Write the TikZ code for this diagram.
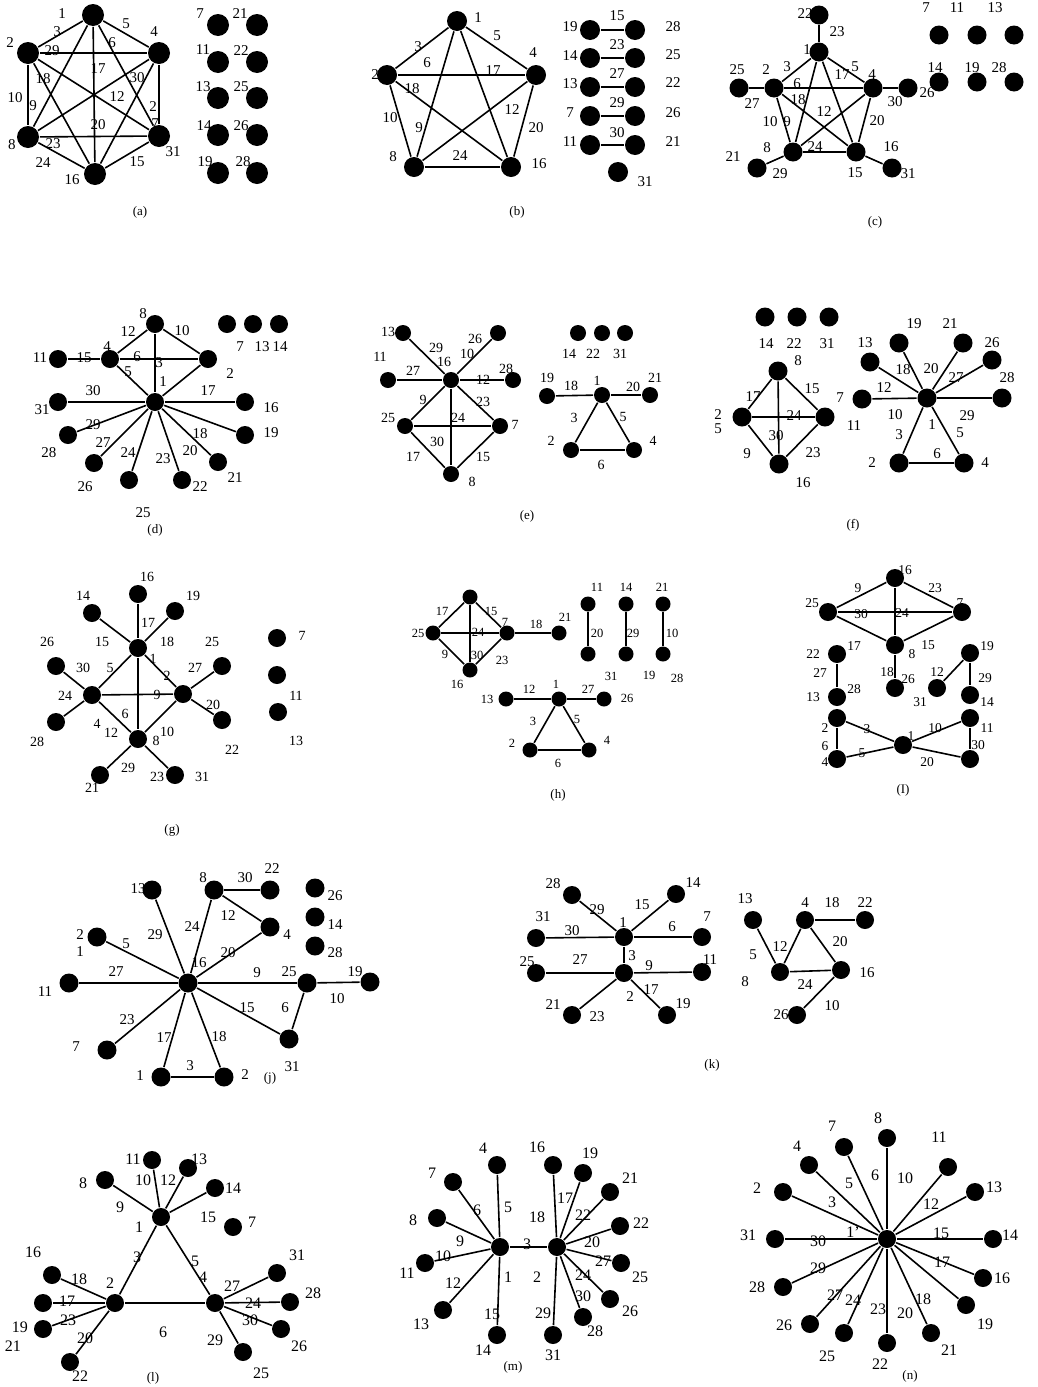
\documentclass[tikz,border=0pt]{standalone}
\usepackage{fontspec}
\setmainfont{Liberation Serif}
\usepackage{tikz}
\tikzstyle{pnt}=[circle,fill,inner sep=0pt,minimum size=19pt]
\tikzstyle{lbl}=[inner sep=0pt,font=\fontsize{15}{15}\selectfont]
\tikzstyle{subcap}=[inner sep=0pt,font=\fontsize{13}{13}\selectfont]

\begin{document}
\begin{tikzpicture}[x=1pt,y=-1pt,line width=1.6pt]
\fill[white] (0,0) rectangle (1038,1387);
\useasboundingbox (0,0) rectangle (1038,1387);

% (a)
\begin{scope}[pnt/.append style={minimum size=22pt}]
\foreach \n/\x/\y in {1/93/15,4/159/53,2/28/53,8/28/137,31/159/136,16/95/174,
  7/218/25,21/257/25,11/218/62,22/257/62,13/218/98,25/257/98,14/218/135,26/257/135,19/218/173,28/257/173}
  \node[pnt] (a\n) at (\x,\y) {};
\foreach \u/\v in {1/2,1/4,1/8,1/16,1/31,2/4,2/8,2/16,2/31,4/8,4/16,4/31,8/31,8/16,16/31}
  \draw (a\u) -- (a\v);
\foreach \s/\x/\y [count=\k] in {1/62/14,5/126/24,3/57/32,2/10/43,4/154/32,29/52/51,6/112/43,17/98/69,
  18/43/79,30/137/78,10/15/98,12/117/97,9/33/106,2/153/107,7/155/124,20/98/125,8/12/145,23/53/144,
  24/43/163,15/137/162,31/173/152,16/72/180,7/200/14,21/240/14,11/203/50,22/241/51,13/203/87,
  25/241/87,14/204/126,26/241/126,19/205/162,28/243/162}
  \node[lbl] (aL\k) at (\x,\y) {\s};
\node[subcap] (acap) at (140,212) {(a)};
\end{scope}

% (b)
\begin{scope}[pnt/.append style={minimum size=20pt}]
\foreach \n/\x/\y in {1/457/21,2/387/75,4/536/75,8/414/167,16/511/167,19/590/30,28/635/30,14/590/58,
  25/635/58,13/590/87,22/635/87,7/590/116,26/635/116,11/590/145,21/635/145,31/618/172}
  \node[pnt] (b\n) at (\x,\y) {};
\foreach \u/\v in {1/2,1/4,1/8,1/16,2/4,2/8,2/16,4/8,4/16,8/16,19/28,14/25,13/22,7/26,11/21}
  \draw (b\u) -- (b\v);
\foreach \s/\x/\y [count=\k] in {1/478/18,3/418/47,5/497/36,4/533/53,2/375/75,6/427/63,17/493/71,
  18/412/89,12/512/110,10/390/118,9/419/128,20/536/128,24/460/156,8/393/157,16/539/164,19/570/27,
  14/570/56,13/570/84,7/570/113,11/570/142,15/617/16,23/617/45,27/617/74,29/617/103,30/617/133,
  28/673/27,25/673/55,22/673/83,26/673/113,21/673/142,31/645/182}
  \node[lbl] (bL\k) at (\x,\y) {\s};
\node[subcap] (bcap) at (517,212) {(b)};
\end{scope}

% (c)
\foreach \n/\x/\y in {22/819/15,1/819/52,2/774/88,4/873/88,25/739/88,26/908/88,8/793/152,15/856/152,
  21/757/168,31/892/168,7/939/35,11/977/35,13/1014/35,14/939/82,19/977/82,28/1014/82}
  \node[pnt] (c\n) at (\x,\y) {};
\foreach \u/\v in {22/1,1/2,1/4,1/8,1/15,2/4,2/8,2/15,4/8,4/15,8/15,25/2,4/26,8/21,15/31}
  \draw (c\u) -- (c\v);
\foreach \s/\x/\y [count=\k] in {22/805/14,23/837/32,1/807/50,25/737/70,2/766/70,3/787/67,5/855/67,
  17/842/75,4/872/75,6/797/84,27/752/104,30/895/102,26/927/93,18/798/100,12/824/112,10/770/122,
  9/787/122,20/877/121,8/767/148,24/815/147,16/891/147,21/733/157,29/780/174,15/855/173,31/908/174,
  7/926/8,11/957/8,13/995/8,14/935/68,19/972/68,28/999/68}
  \node[lbl] (cL\k) at (\x,\y) {\s};
\node[subcap] (ccap) at (875,222) {(c)};

% (d)
\begin{scope}[pnt/.append style={minimum size=18pt}]
\foreach \n/\x/\y in {8/155/324,4/110/359,2/208/359,11/58/359,1/155/402,31/58/402,16/245/402,
  28/68/435,19/245/435,26/94/463,21/218/462,25/129/480,22/182/480,7/227/324,13/253/324,14/279/324}
  \node[pnt] (d\n) at (\x,\y) {};
\foreach \u/\v in {8/4,8/2,8/1,4/2,11/4,4/1,2/1,31/1,1/16,1/28,1/26,1/25,1/22,1/21,1/19}
  \draw (d\u) -- (d\v);
\foreach \s/\x/\y [count=\k] in {8/143/314,12/128/332,10/182/331,11/40/358,15/84/358,4/107/347,
  6/137/357,3/159/363,5/128/372,1/163/382,2/230/374,30/93/391,17/208/391,31/42/410,16/271/408,
  29/93/425,18/200/434,19/271/433,27/103/443,24/128/453,20/190/451,23/163/459,28/49/453,21/235/478,
  26/85/487,22/200/487,25/143/513,7/240/347,13/262/347,14/280/347}
  \node[lbl] (dL\k) at (\x,\y) {\s};
\node[subcap] (dcap) at (155,530) {(d)};
\end{scope}

% (e)
\begin{scope}[pnt/.append style={minimum size=16pt},lbl/.append style={font=\fontsize{14}{14}\selectfont}]
\foreach \n/\x/\y in {13/403/333,26/498/333,11/388/380,16/451/380,28/513/380,25/405/426,7/500/426,
  8/451/474,14/578/333,22/602/333,31/625/333,19/547/396,1/602/395,21/650/395,2/571/450,4/634/450}
  \node[pnt] (e\n) at (\x,\y) {};
\foreach \u/\v in {13/16,26/16,11/16,16/28,16/25,16/7,16/8,25/7,25/8,7/8,19/1,1/21,1/2,1/4,2/4}
  \draw (e\u) -- (e\v);
\foreach \s/\x/\y [count=\k] in {13/388/332,29/436/348,26/475/339,16/444/362,10/467/354,11/380/357,
  27/413/371,12/483/380,28/506/369,9/423/400,23/483/402,25/388/418,24/458/418,7/515/425,30/437/442,
  17/413/457,15/483/457,8/472/482,14/569/354,22/593/354,31/620/354,19/547/378,1/597/381,21/655/378,
  2/551/441,4/653/441,18/571/386,20/633/387,3/574/418,5/623/417,6/601/465}
  \node[lbl] (eL\k) at (\x,\y) {\s};
\node[subcap] (ecap) at (527,516) {(e)};
\end{scope}

% (f)
\foreach \n/\x/\y in {14/765/317,22/797/317,31/829/317,8/778/371,2/742/417,7/825/417,16/779/464}
  \node[pnt] (f\n) at (\x,\y) {};
\foreach \n/\x/\y in {1/927/398,13/870/362,19/899/343,21/963/343,26/992/360,28/1002/398,
  11/862/399,2/899/463,4/964/463}
  \node[pnt] (fr\n) at (\x,\y) {};
\foreach \u/\v in {8/2,8/7,8/16,2/7,2/16,7/16}
  \draw (f\u) -- (f\v);
\foreach \u/\v in {1/13,1/19,1/21,1/26,1/28,1/11,1/2,1/4,2/4}
  \draw (fr\u) -- (fr\v);
\foreach \s/\x/\y [count=\k] in {14/766/344,22/794/344,31/827/344,8/798/361,2/718/415,5/718/429,
  7/840/398,16/803/483,17/753/397,15/812/389,24/794/416,30/776/436,9/747/454,23/813/453,1/932/425,
  13/865/343,19/914/324,21/950/324,26/992/343,28/1007/378,11/854/426,2/872/463,4/985/463,12/884/388,
  18/903/370,20/931/369,27/956/378,10/895/415,29/967/416,3/899/435,5/960/433,6/937/454}
  \node[lbl] (fL\k) at (\x,\y) {\s};
\node[subcap] (fcap) at (853,525) {(f)};

% (g)
\begin{scope}[pnt/.append style={minimum size=18pt},lbl/.append style={font=\fontsize{14}{14}\selectfont}]
\foreach \n/\x/\y in {16/138/594,14/92/613,19/175/611,T/138/648,26/56/666,25/222/666,L/92/695,
  R/183/694,28/56/722,22/222/720,B/138/739,21/100/775,31/175/775,7/277/638,11/277/675,13/278/712}
  \node[pnt] (g\n) at (\x,\y) {};
\foreach \u/\v in {16/T,14/T,19/T,T/L,T/R,T/B,L/R,L/B,R/B,26/L,28/L,25/R,R/22,B/21,B/31}
  \draw (g\u) -- (g\v);
\foreach \s/\x/\y [count=\k] in {16/147/577,14/83/596,19/193/596,1/153/659,26/47/642,25/212/642,
  24/65/696,28/37/742,22/232/750,8/156/741,21/92/788,31/202/777,17/148/623,15/102/642,18/167/642,
  30/83/668,5/110/668,2/167/676,27/195/668,9/157/695,20/213/705,6/125/714,4/97/724,12/111/733,
  10/167/732,29/128/768,23/157/777,7/302/636,11/296/696,13/296/741}
  \node[lbl] (gL\k) at (\x,\y) {\s};
\node[subcap] (gcap) at (172,830) {(g)};
\end{scope}

% (h)
\begin{scope}[pnt/.append style={minimum size=15pt},lbl/.append style={font=\fontsize{12.5}{12.5}\selectfont}]
\foreach \n/\x/\y in {T/470/597,25/433/633,7/507/633,16/470/670,21/559/633,11/588/604,31/588/654,
  14/626/604,19/626/654,21b/663/604,28/663/654,13/506/699,1/559/699,26/604/699,2/530/750,4/589/750}
  \node[pnt] (h\n) at (\x,\y) {};
\foreach \u/\v in {T/25,T/7,T/16,25/7,25/16,7/16,7/21,11/31,14/19,21b/28,13/1,1/26,1/2,1/4,2/4}
  \draw (h\u) -- (h\v);
\foreach \s/\x/\y [count=\k] in {17/442/611,15/491/611,25/418/633,7/505/622,24/478/632,9/445/654,
  30/477/655,23/502/660,16/457/684,18/536/624,21/565/617,11/597/587,14/626/587,21/662/587,20/597/633,
  29/633/633,10/672/633,31/611/676,19/649/675,28/677/678,13/487/699,1/556/684,12/529/689,27/588/689,
  26/627/698,3/533/721,5/577/719,2/512/743,4/607/740,6/558/763}
  \node[lbl] (hL\k) at (\x,\y) {\s};
\node[subcap] (hcap) at (558,795) {(h)};
\end{scope}

% (I)
\begin{scope}[pnt/.append style={minimum size=18pt},lbl/.append style={font=\fontsize{13.5}{13.5}\selectfont}]
\foreach \n/\x/\y in {16/895/578,25/828/612,7/962/612,8/895/645,17/837/654,28/837/697,26/895/688,
  12/937/688,19/970/653,14/970/695,2/837/718,4/837/759,1/903/745,11/970/718,br/970/759}
  \node[pnt] (i\n) at (\x,\y) {};
\foreach \u/\v in {16/25,16/7,16/8,25/7,25/8,7/8,17/28,8/26,19/12,19/14,2/4,2/1,4/1,1/11,1/br,11/br}
  \draw (i\u) -- (i\v);
\foreach \s/\x/\y [count=\k] in {16/905/570,25/812/603,7/960/603,8/912/654,9/858/588,23/935/588,
  30/861/614,24/902/613,15/928/645,17/854/646,22/813/654,28/854/689,13/813/697,27/820/673,26/908/679,
  18/887/672,12/937/672,19/987/646,14/987/702,29/985/678,31/920/702,2/825/728,4/825/762,1/911/736,
  11/987/728,6/825/746,3/867/729,5/862/753,10/935/728,30/978/745,20/927/762}
  \node[lbl] (iL\k) at (\x,\y) {\s};
\node[subcap] (icap) at (903,790) {(I)};
\end{scope}

% (j)
\foreach \n/\x/\y in {13/152/890,8/214/890,22/270/890,4/270/927,2/97/937,11/69/983,16/188/983,
  25/307/983,19/370/982,7/107/1050,31/289/1039,1/161/1077,2b/224/1077,26/315/888,14/315/917,28/315/946}
  \node[pnt] (j\n) at (\x,\y) {};
\foreach \u/\v in {16/13,16/8,8/22,8/4,16/4,16/2,16/11,16/25,25/19,25/31,16/31,16/7,16/1,16/2b,1/2b}
  \draw (j\u) -- (j\v);
\foreach \s/\x/\y [count=\k] in {13/138/889,8/203/878,22/272/869,30/245/878,4/287/935,2/80/935,
  1/80/952,11/45/992,16/199/963,25/289/972,19/355/972,7/76/1047,31/292/1067,1/140/1076,2/245/1075,
  29/155/935,24/192/927,12/228/916,5/126/944,20/228/953,27/116/972,9/257/973,10/337/999,15/247/1008,
  6/285/1008,23/127/1020,17/164/1038,18/219/1037,3/190/1066,26/335/896,14/335/925,28/335/953}
  \node[lbl] (jL\k) at (\x,\y) {\s};
\node[subcap] (jcap) at (270,1078) {(j)};

% (k)
\begin{scope}[pnt/.append style={minimum size=18pt}]
\foreach \n/\x/\y in {28/572/895,14/676/894,1/624/937,31/536/938,7/702/937,c/624/973,25/536/973,
  11/702/972,21/572/1015,19/667/1015,13/753/920,4/805/920,22/865/920,m/780/972,16/841/970,26/797/1015}
  \node[pnt] (k\n) at (\x,\y) {};
\foreach \u/\v in {28/1,14/1,31/1,1/7,1/c,25/c,c/11,c/21,c/19,13/m,4/m,4/22,4/16,m/16,16/26}
  \draw (k\u) -- (k\v);
\foreach \s/\x/\y [count=\k] in {28/553/884,14/693/883,1/623/923,31/543/917,7/707/917,3/632/956,
  25/527/962,11/710/960,21/553/1005,19/683/1004,29/597/910,15/642/905,30/572/931,6/672/927,27/580/960,
  9/649/966,17/651/990,2/630/997,23/597/1017,13/745/899,4/805/903,22/865/903,18/832/903,12/780/947,
  16/867/973,26/781/1015,5/753/955,8/745/982,20/840/942,24/805/985,10/832/1006}
  \node[lbl] (kL\k) at (\x,\y) {\s};
\node[subcap] (kcap) at (712,1065) {(k)};
\end{scope}

% (l), (m), (n)
\begin{scope}[pnt/.append style={minimum size=18pt},lbl/.append style={font=\fontsize{16}{16}\selectfont}]
\foreach \n/\x/\y in {11/152/1160,13/188/1168,8/105/1180,14/215/1188,1/161/1217,7/233/1227,
  16/52/1275,2/115/1303,4/215/1303,31/277/1273,17/43/1303,19/43/1329,22/70/1362,28/290/1302,
  26/281/1329,25/243/1352}
  \node[pnt] (l\n) at (\x,\y) {};
\foreach \u/\v in {1/11,1/13,1/8,1/14,1/2,1/4,2/4,2/16,2/17,2/19,2/22,4/31,4/28,4/26,4/25}
  \draw (l\u) -- (l\v);
\foreach \s/\x/\y [count=\k] in {11/133/1159,13/199/1159,8/83/1183,14/233/1188,1/139/1227,7/252/1222,
  16/33/1252,2/110/1283,4/203/1277,31/297/1255,19/20/1327,21/13/1346,22/80/1376,28/313/1293,
  26/299/1346,25/261/1373,10/143/1180,12/168/1180,9/120/1207,15/208/1217,3/137/1257,5/195/1261,
  18/79/1279,17/67/1301,23/68/1320,20/85/1338,6/163/1332,27/232/1286,24/253/1303,30/250/1320,29/215/1340}
  \node[lbl] (lL\k) at (\x,\y) {\s};
\node[subcap] (lcap) at (153,1378) {(l)};

\foreach \n/\x/\y in {4/497/1165,16/553/1165,19/583/1173,7/453/1182,21/610/1192,8/437/1218,
  22/620/1226,L/500/1247,R/557/1247,11/425/1263,25/621/1263,26/610/1299,13/443/1310,28/583/1317,
  14/497/1335,31/553/1335}
  \node[pnt] (m\n) at (\x,\y) {};
\foreach \u/\v in {L/4,L/7,L/8,L/11,L/13,L/14,L/R,R/16,R/19,R/21,R/22,R/25,R/26,R/28,R/31}
  \draw (m\u) -- (m\v);
\foreach \s/\x/\y [count=\k] in {4/483/1148,16/537/1147,19/590/1153,7/432/1173,21/630/1178,8/413/1220,
  22/641/1223,11/407/1273,25/640/1277,26/630/1311,13/421/1324,28/595/1331,14/483/1350,31/553/1355,
  5/508/1207,6/477/1210,9/460/1241,10/443/1256,12/453/1283,15/492/1314,1/508/1277,3/527/1244,
  18/537/1217,17/565/1198,22/583/1215,20/592/1242,27/603/1261,24/583/1275,30/583/1296,2/537/1277,29/543/1313}
  \node[lbl] (mL\k) at (\x,\y) {\s};
\node[subcap] (mcap) at (513,1367) {(m)};

\foreach \n/\x/\y in {c/887/1239,8/887/1138,7/844/1147,11/948/1167,4/809/1165,2/783/1192,13/975/1192,
  14/993/1239,31/775/1239,16/983/1278,28/783/1287,19/966/1305,26/810/1324,25/844/1333,22/887/1343,21/931/1333}
  \node[pnt] (n\n) at (\x,\y) {};
\foreach \v in {8,7,11,4,2,13,14,31,16,28,19,26,25,22,21}
  \draw (nc) -- (n\v);
\foreach \s/\x/\y [count=\k] in {8/878/1118,7/832/1126,11/939/1137,4/797/1146,2/757/1188,13/994/1187,
  14/1010/1235,31/748/1235,28/757/1287,16/1002/1278,26/784/1325,19/985/1324,25/827/1356,22/880/1364,
  21/949/1350,6/875/1175,10/905/1178,5/849/1183,3/832/1202,12/931/1204,30/818/1241,15/941/1233,
  29/818/1268,17/942/1262,27/835/1295,24/853/1300,23/878/1309,18/923/1299,20/905/1313}
  \node[lbl] (nL\k) at (\x,\y) {\s};
\node[lbl] (nLone) at (853,1232) {1'};
\node[subcap] (ncap) at (910,1376) {(n)};
\end{scope}
\end{tikzpicture}
\end{document}
